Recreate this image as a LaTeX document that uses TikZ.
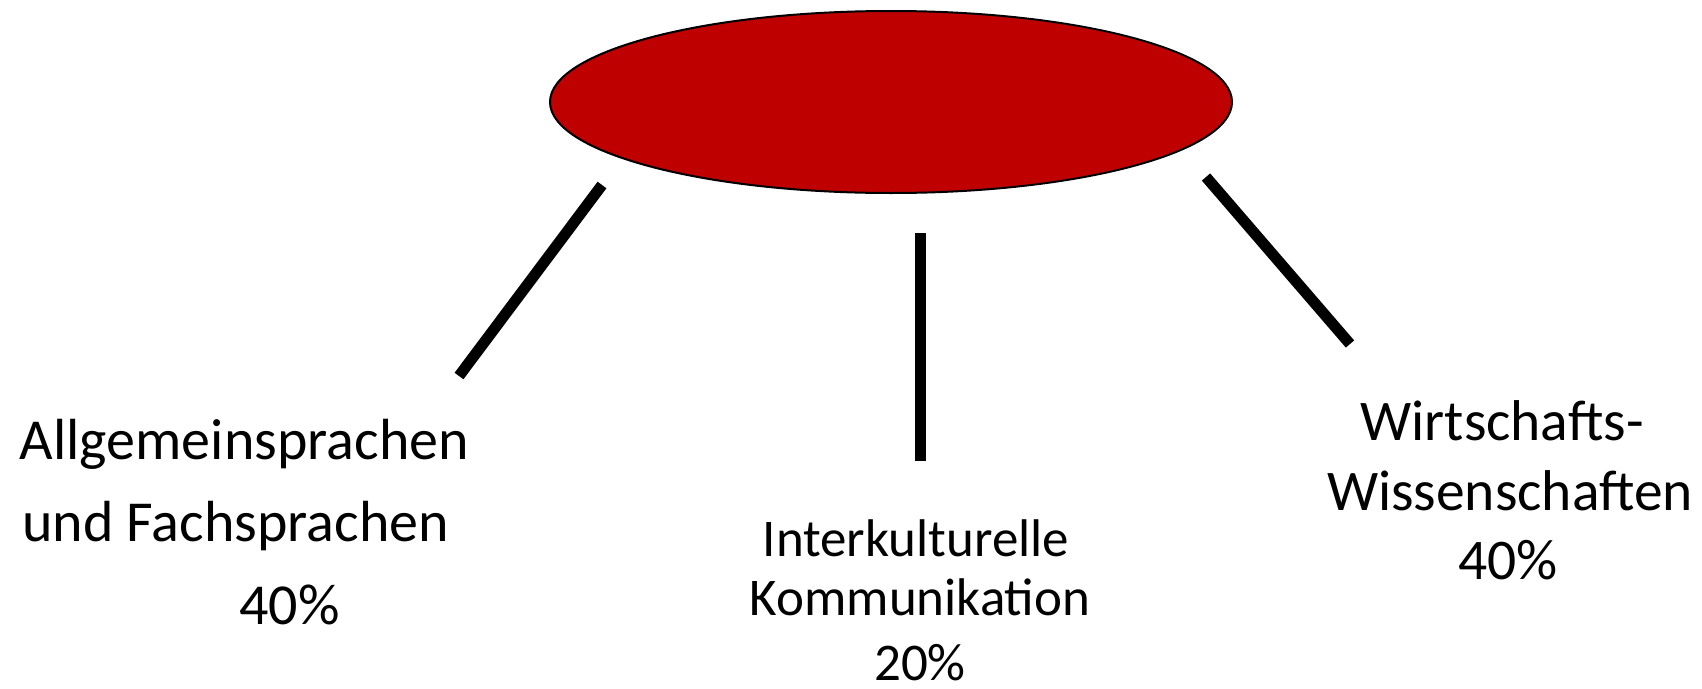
\documentclass[tikz,border=0pt]{standalone}
\usepackage{fontspec}
\setmainfont{Carlito}
\usetikzlibrary{shapes.geometric}
\definecolor{topred}{RGB}{190,0,0}
\tikzset{
  bar/.style={line width=11pt, black, line cap=butt},
  lblL/.style={inner sep=0pt, anchor=base west, font=\fontsize{58}{70}\selectfont},
  lblC/.style={inner sep=0pt, anchor=base, font=\fontsize{#1}{70}\selectfont},
}
\begin{document}
\begin{tikzpicture}[x=1pt,y=-1pt]
\useasboundingbox (0,0) rectangle (1702,688);
\node[ellipse, draw=black, line width=2pt, fill=topred, minimum width=682pt, minimum height=182pt, inner sep=0pt] (top) at (891,102) {};
% connectors
\coordinate (l1) at (602,185); \coordinate (l2) at (459,376);
\coordinate (m1) at (920,233); \coordinate (m2) at (920,461);
\coordinate (r1) at (1206,177); \coordinate (r2) at (1350,344);
\draw[bar] (l1) -- (l2);
\draw[bar] (m1) -- (m2);
\draw[bar] (r1) -- (r2);
% left label
\node[lblL] (a1) at (19.5,459) {Allgemeinsprachen};
\node[lblL] (a2) at (22,541) {und Fachsprachen};
\node[lblL] (a3) at (239,624) {40\%};
% middle label
\node[lblC=53] (b1) at (916,556) {Interkulturelle};
\node[lblC=53] (b2) at (920,615) {Kommunikation};
\node[lblC=53] (b3) at (920,680) {20\%};
% right label
\node[lblC=57.5] (c1) at (1502,440) {Wirtschafts-};
\node[lblC=57.5] (c2) at (1510,510) {Wissenschaften};
\node[lblC=57.5] (c3) at (1508,579) {40\%};
\end{tikzpicture}
\end{document}
